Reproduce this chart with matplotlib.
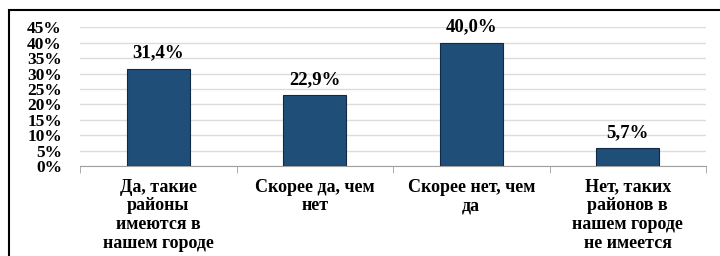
import matplotlib
matplotlib.use("Agg")
import matplotlib.pyplot as plt
from matplotlib.patches import Rectangle
from matplotlib.ticker import FixedLocator

categories = ["Да, такие\nрайоны\nимеются в\nнашем городе",
              "Скорее да, чем\nнет",
              "Скорее нет, чем\nда",
              "Нет, таких\nрайонов в\nнашем городе\nне имеется"]
values = [31.4, 22.9, 40.0, 5.7]
value_labels = ["31,4%", "22,9%", "40,0%", "5,7%"]
yticks = [0, 5, 10, 15, 20, 25, 30, 35, 40, 45]
ytick_labels = [f"{v}%" for v in yticks]

plt.rcParams['font.family'] = ['Liberation Serif', 'DejaVu Serif']
plt.rcParams['font.weight'] = 'bold'

fig = plt.figure(figsize=(7.2, 2.56), dpi=100)
fig.patch.set_facecolor('white')
# outer frame
fig.patches.append(Rectangle((9/720, -0.2), 1.2, 1 - 10/256 + 0.2,
                             transform=fig.transFigure, fill=False,
                             edgecolor='black', linewidth=1.5))

ax = fig.add_axes([80/720, 1 - 166/256, (706 - 80)/720, (166 - 27.3)/256])
x = list(range(len(categories)))
ax.bar(x, values, width=0.40, color='#1f4e79', edgecolor='#0e2a44', linewidth=0.8, zorder=3)
for xi, v, lab in zip(x, values, value_labels):
    ax.annotate(lab, (xi, v), xytext=(0, 5.5), textcoords='offset points',
                ha='center', va='bottom', fontsize=13.5, fontweight='bold')

ax.set_xlim(-0.5, len(categories) - 0.5)
ax.set_ylim(0, 45)
ax.set_yticks(yticks)
ax.set_yticklabels(ytick_labels, fontsize=12.5, fontweight='bold')
ax.tick_params(axis='y', length=0, pad=13)
ax.yaxis.grid(True, color='#dcdcdc', linewidth=1, zorder=0)
ax.set_axisbelow(True)

ax.set_xticks(x)
ax.set_xticklabels(categories, fontsize=13, fontweight='bold', linespacing=1.15, va='top')
ax.tick_params(axis='x', which='major', length=0, pad=9)
ax.xaxis.set_minor_locator(FixedLocator([i - 0.5 for i in range(len(categories) + 1)]))
ax.tick_params(axis='x', which='minor', length=5, color='#a0a0a0', direction='out')

for s in ['top', 'right', 'left']:
    ax.spines[s].set_visible(False)
ax.spines['bottom'].set_color('#a0a0a0')

fig.savefig('out.png', dpi=100)
